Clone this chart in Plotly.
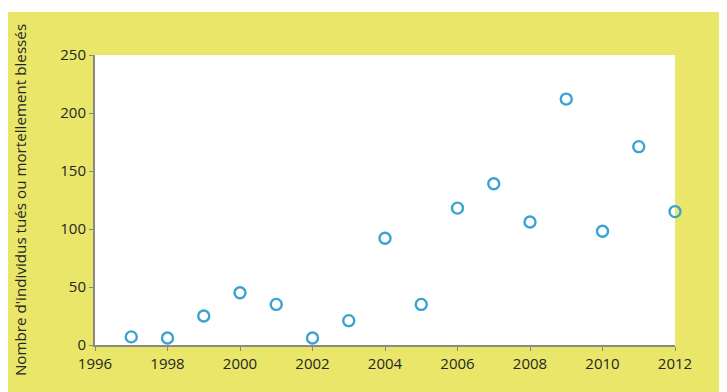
import plotly.graph_objects as go

# Donnees
annees = [1997, 1998, 1999, 2000, 2001, 2002, 2003, 2004, 2005, 2006, 2007, 2008, 2009, 2010, 2011, 2012]
victimes = [7, 6, 25, 45, 35, 6, 21, 92, 35, 118, 139, 106, 212, 98, 171, 115]

x_ticks = [1996, 1998, 2000, 2002, 2004, 2006, 2008, 2010, 2012]
y_ticks = [0, 50, 100, 150, 200, 250]

JAUNE = "#e9e66a"
BLEU = "#3aa3d2"
TEXTE = "#262626"
AXE = "#8a8a80"

fig = go.Figure(go.Scatter(
    x=annees, y=victimes, mode="markers", cliponaxis=False,
    marker=dict(symbol="circle-open", size=11, color=BLEU, line=dict(width=2.4, color=BLEU)),
    hovertemplate="%{x}: %{y}<extra></extra>",
))

# petite bande blanche en haut (la marge de la page fait le reste)
fig.add_shape(type="rect", xref="paper", yref="paper", layer="below",
              x0=-0.3, x1=1.3, y0=(337 - 4) / 290, y1=1.4,
              fillcolor="white", line_width=0)

fig.update_layout(
    width=719, height=384,
    margin=dict(l=87, r=52, t=47, b=47),
    paper_bgcolor=JAUNE, plot_bgcolor="white",
    font=dict(family="Open Sans", size=15, color=TEXTE),
    showlegend=False,
)
fig.update_xaxes(range=[1996, 2012], tickvals=x_ticks, showgrid=False, zeroline=False,
                 showline=True, linecolor=AXE, linewidth=2, ticks="outside",
                 tickcolor=AXE, ticklen=4, tickfont=dict(size=15))
fig.update_yaxes(range=[0, 250], tickvals=y_ticks, showgrid=False, zeroline=False,
                 showline=True, linecolor=AXE, linewidth=2, ticks="outside",
                 tickcolor=AXE, ticklen=4, tickfont=dict(size=15),
                 title=dict(text="Nombre d'individus tués ou mortellement blessés",
                            font=dict(size=15.2), standoff=30))

fig.write_html("out.html")
